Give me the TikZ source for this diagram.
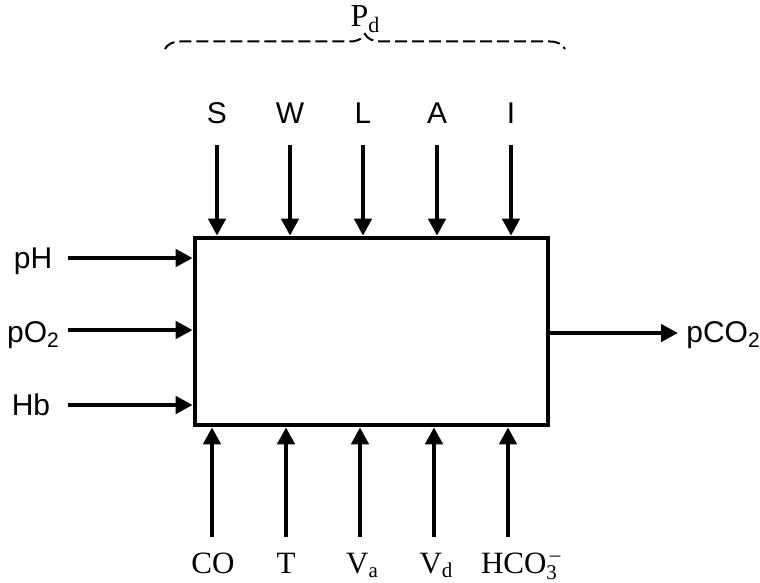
\documentclass[tikz,border=0pt]{standalone}
\usepackage{fontspec}
\setmainfont{Liberation Serif}
\setsansfont{Liberation Sans}
\usetikzlibrary{arrows.meta,decorations.pathreplacing}
\begin{document}
\begin{tikzpicture}[x=0.5pt,y=-0.5pt,
  sanslab/.style={font=\sffamily\fontsize{15}{18}\selectfont, inner sep=0pt, anchor=base},
  seriflab/.style={font=\rmfamily\fontsize{15.5}{18}\selectfont, inner sep=0pt, anchor=base},
  arr/.style={line width=2.3pt, -{Triangle[length=8.5pt,width=8.5pt]}},
  blockbox/.style={draw, line width=2.3pt, minimum width=176.5pt, minimum height=93.5pt, inner sep=0pt}]
\useasboundingbox (0,0) rectangle (760,583);
% main box
\node[blockbox] (box) at (371.5,331.5) {};
% brace and P_d
\coordinate (bl) at (165,49);
\coordinate (br) at (565,49);
\draw[line width=1pt, dash pattern=on 6pt off 2.5pt, decorate, decoration={brace, amplitude=7.5pt}] (bl) -- (br);
\node[font=\rmfamily\fontsize{16}{19}\selectfont, inner sep=0pt, anchor=base] (pd) at (365,27) {P\raisebox{-0.35ex}{\fontsize{11}{13}\selectfont d}};
% top inputs
\foreach \n/\t/\x in {s/S/217, w/W/290, l/L/363, a/A/437, i/I/511}{
  \node[sanslab] (\n) at (\x,124) {\t};
  \coordinate (\n s) at (\x,145);
  \draw[arr] (\n s) -- (\n s |- box.north);
}
% bottom inputs
\node[seriflab] (co) at (213,573) {CO};
\node[seriflab] (t) at (286,573) {T};
\node[seriflab] (va) at (362,573) {V\raisebox{-0.35ex}{\fontsize{10.5}{12}\selectfont a}};
\node[seriflab] (vd) at (436,573) {V\raisebox{-0.35ex}{\fontsize{10.5}{12}\selectfont d}};
\node[seriflab] (hco) at (519,573) {HCO\makebox[0pt][l]{\raisebox{0.8ex}{\fontsize{10.5}{12}\selectfont\,–}}\raisebox{-0.45ex}{\fontsize{10.5}{12}\selectfont 3}};
\foreach \n/\x in {co/212, t/286, va/360, vd/434, hco/508}{
  \coordinate (\n s) at (\x,537);
  \draw[arr] (\n s) -- (\n s |- box.south);
}
% left inputs
\node[sanslab] (ph) at (33,268) {pH};
\node[sanslab] (po) at (33,342) {pO\raisebox{-0.35ex}{\fontsize{10.5}{12}\selectfont 2}};
\node[sanslab] (hb) at (31,415) {Hb};
\foreach \n/\y in {ph/258, po/330, hb/405}{
  \coordinate (\n s) at (68,\y);
  \draw[arr] (\n s) -- (\n s -| box.west);
}
% output
\node[sanslab, anchor=base west] (pco) at (686,342) {pCO\raisebox{-0.35ex}{\fontsize{10.5}{12}\selectfont 2}};
\coordinate (oute) at (678,333);
\draw[arr] (oute -| box.east) -- (oute);
\end{tikzpicture}
\end{document}
